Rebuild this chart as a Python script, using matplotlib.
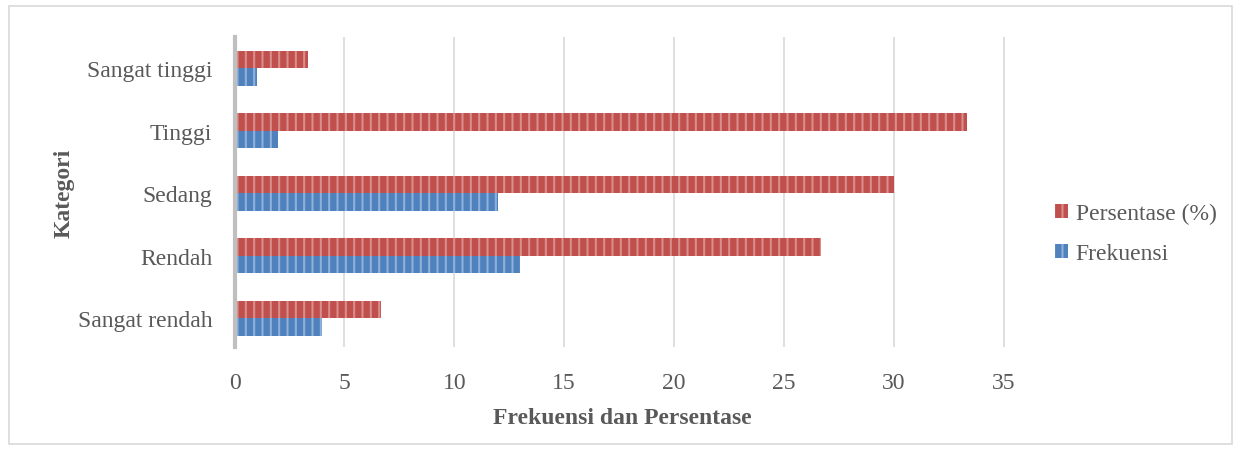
import numpy as np
import matplotlib
matplotlib.use('Agg')
import matplotlib.pyplot as plt

plt.rcParams['font.family'] = ['Liberation Serif', 'DejaVu Serif']
plt.rcParams['hatch.linewidth'] = 1.5

categories = ['Sangat rendah', 'Rendah', 'Sedang', 'Tinggi', 'Sangat tinggi']
frekuensi = [4, 13, 12, 2, 1]
persentase = [6.67, 26.67, 30.0, 33.33, 3.33]
x_ticks = [0, 5, 10, 15, 20, 25, 30, 35]

red = '#C0504D'
blue = '#4F81BD'
text_col = '#595959'

fig = plt.figure(figsize=(12.41, 4.52), dpi=100)
fig.patches.append(plt.Rectangle((0.007, 0.015), 0.986, 0.97, transform=fig.transFigure,
                                 fill=False, edgecolor='#D9D9D9', linewidth=1.2))
ax = fig.add_axes([0.189, 0.23, 0.625, 0.686])

y = np.arange(len(categories))
h = 0.28
ax.barh(y + h / 2, persentase, height=h, color=red, edgecolor='#D98E8C', hatch='||',
        linewidth=0, label='Persentase (%)', zorder=3)
ax.barh(y - h / 2, frekuensi, height=h, color=blue, edgecolor='#8FB0DA', hatch='||',
        linewidth=0, label='Frekuensi', zorder=3)

ax.set_xlim(0, 35.3)
ax.set_ylim(-0.46, 4.5)
ax.set_xticks(x_ticks)
ax.set_yticks(y)
ax.set_yticklabels(categories)
ax.tick_params(axis='both', length=0, labelsize=17, colors=text_col)
ax.tick_params(axis='y', pad=16)
ax.tick_params(axis='x', pad=18)
ax.grid(axis='x', color='#D9D9D9', linewidth=1.2, zorder=0)
for s in ['top', 'right', 'bottom']:
    ax.spines[s].set_visible(False)
ax.spines['left'].set_color('#BFBFBF')
ax.spines['left'].set_linewidth(3)
ax.spines['left'].set_zorder(4)

ax.set_xlabel('Frekuensi dan Persentase', fontsize=17, fontweight='bold', color=text_col, labelpad=10)
ax.set_ylabel('Kategori', fontsize=17, fontweight='bold', color=text_col, labelpad=2)

leg = ax.legend(loc='center left', bbox_to_anchor=(1.031, 0.365), frameon=False, fontsize=17,
                handlelength=0.55, handleheight=0.55, handletextpad=0.3, labelspacing=0.8)
for t in leg.get_texts():
    t.set_color(text_col)

fig.savefig('out.png', dpi=100)
